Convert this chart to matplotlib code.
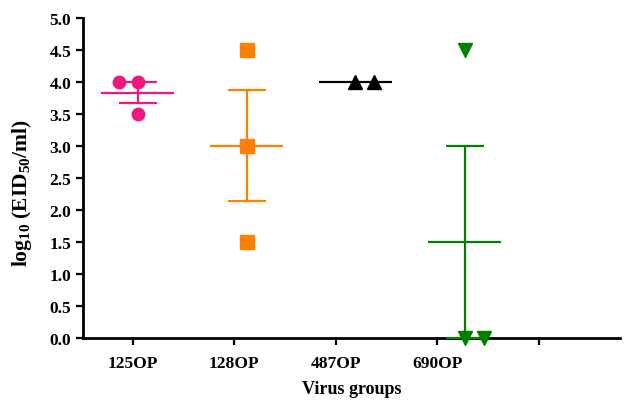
#Gráfica de títulos virales por grupo
import matplotlib
matplotlib.use("Agg")
import matplotlib.pyplot as plt
import numpy as np

#datos
grupos = ["125OP", "128OP", "487OP", "690OP", ""]
v125 = [4.0, 4.0, 3.5]
v128 = [4.5, 3.0, 1.5]
v487 = [4.0, 4.0]
v690 = [4.5, 0.0, 0.0]
valores = [v125, v128, v487, v690]

#desplazamiento de cada punto dentro del grupo (como en GraphPad)
despl = [[-0.19, 0.0, 0.0], [0.0, 0.0, 0.0], [0.0, 0.19], [0.0, 0.0, 0.19]]
centros = [1.05, 2.12, 3.19, 4.27]
colores = ["#F2177F", "#FF8000", "black", "#008000"]
marcas = ["o", "s", "^", "v"]
tamanos = [9, 10, 9.5, 9.5]

plt.rcParams['font.family'] = ['Liberation Serif', 'DejaVu Serif']
plt.rcParams['font.weight'] = 'bold'
plt.rcParams['mathtext.fontset'] = 'custom'
plt.rcParams['mathtext.rm'] = 'Liberation Serif:bold'
plt.rcParams['mathtext.it'] = 'Liberation Serif:bold'
plt.rcParams['mathtext.bf'] = 'Liberation Serif:bold'

fig = plt.figure(figsize=(6.24, 4.02), dpi=100)
ax = fig.add_axes([0.133, 0.157, 0.861, 0.796])

for i in range(len(valores)):
	v = np.array(valores[i])
	c = centros[i]
	media = v.mean()
	sem = v.std(ddof=1) / np.sqrt(len(v))
	#línea de la media
	ax.hlines(media, c - 0.36, c + 0.36, color=colores[i], lw=1.6, zorder=3, clip_on=False)
	#error estándar
	if sem > 0:
		ax.errorbar(c, media, yerr=sem, fmt="none", ecolor=colores[i], elinewidth=1.6,
			capsize=13.5, capthick=1.6, zorder=3, clip_on=False)
	#puntos individuales
	xs = [c + d for d in despl[i]]
	ax.plot(xs, v, ls="none", marker=marcas[i], color=colores[i], ms=tamanos[i], zorder=4, clip_on=False)

ax.set_xlim(0.51, 5.8)
ax.set_ylim(0, 5.0)
ax.set_yticks(np.arange(0, 5.01, 0.5))
ax.set_yticklabels(["%.1f" % t for t in np.arange(0, 5.01, 0.5)])
ax.set_xticks(range(1, 6))
ax.set_xticklabels(grupos)

ax.spines["top"].set_visible(False)
ax.spines["right"].set_visible(False)
ax.spines["left"].set_linewidth(2)
ax.spines["bottom"].set_linewidth(2)
ax.tick_params(axis="both", direction="out", width=1.6, length=5, labelsize=12.5)
ax.tick_params(axis="x", pad=7)

ax.set_xlabel("Virus groups", fontsize=13, fontweight="bold", labelpad=7)
ax.set_ylabel(r"log$_{10}$ (EID$_{50}$/ml)", fontsize=15.5, fontweight="bold")
ax.yaxis.set_label_coords(-0.092, 0.455)

plt.savefig("out.png", dpi=100)
